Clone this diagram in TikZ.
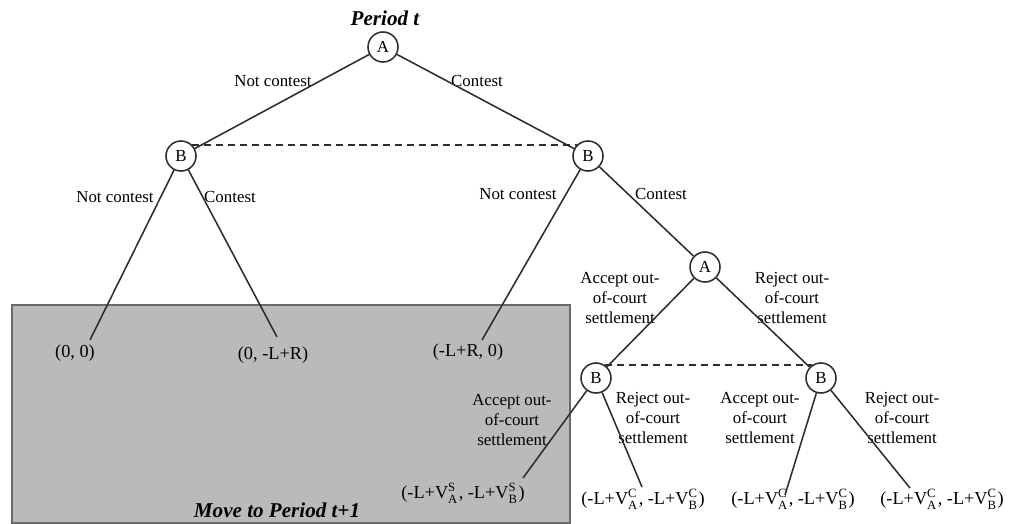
\documentclass[tikz,border=0pt]{standalone}
\usepackage{fontspec}
\setmainfont{Liberation Serif}
\usepackage{tikz}
\definecolor{boxgray}{RGB}{186, 186, 186}
\definecolor{boxedge}{RGB}{105, 105, 105}
\definecolor{inkgray}{RGB}{45, 45, 45}
\newcommand{\payv}[2]{V\rlap{\raisebox{0.85ex}{\fontsize{9}{9}\selectfont #2}}\raisebox{-0.55ex}{\fontsize{9}{9}\selectfont #1}\kern1pt}
\tikzset{
  player/.style  = {circle, draw=inkgray, line width=1.1pt, fill=white, minimum size=0.75cm, inner sep=0pt, font=\fontsize{12}{14}\selectfont},
  move/.style    = {align=center, font=\fontsize{12}{14.2}\selectfont},
  payoff/.style  = {font=\fontsize{13}{15}\selectfont},
  title/.style   = {font=\fontsize{15}{18}\selectfont\bfseries\itshape},
  branch/.style  = {draw=inkgray, line width=1.1pt},
  infoset/.style = {draw=inkgray, line width=1.1pt, dash pattern=on 5pt off 3.5pt}
}

\begin{document}
\begin{tikzpicture}[x=0.025cm, y=-0.025cm]
            \useasboundingbox                                         (0, 0) rectangle (1012, 524);
            \filldraw[boxedge, fill=boxgray, line width=1pt]          (12, 305) rectangle (570, 523);
            \node[title]  (period) at (385,  18) {Period t};
            \node[title]  (nextp)  at (277, 510) {Move to Period t+1};

            \node[player] (A0) at (383,  47) {A};
            \node[player] (B1) at (181, 156) {B};
            \node[player] (B2) at (588, 156) {B};
            \node[player] (A1) at (705, 267) {A};
            \node[player] (B3) at (596, 378) {B};
            \node[player] (B4) at (821, 378) {B};

            \node[payoff] (pay1) at ( 75, 353) {(0, 0)};
            \node[payoff] (pay2) at (273, 355) {(0, -L+R)};
            \node[payoff] (pay3) at (468, 352) {(-L+R, 0)};
            \node[payoff] (pay4) at (463, 493) {(-L+\payv{A}{S}, -L+\payv{B}{S})};
            \node[payoff] (pay5) at (643, 499) {(-L+\payv{A}{C}, -L+\payv{B}{C})};
            \node[payoff] (pay6) at (793, 499) {(-L+\payv{A}{C}, -L+\payv{B}{C})};
            \node[payoff] (pay7) at (942, 499) {(-L+\payv{A}{C}, -L+\payv{B}{C})};
            \coordinate   (end1) at ( 90, 340);
            \coordinate   (end2) at (277, 337);
            \coordinate   (end3) at (482, 340);
            \coordinate   (end4) at (523, 478);
            \coordinate   (end5) at (642, 487);
            \coordinate   (end6) at (785, 495);
            \coordinate   (end7) at (910, 488);

            \node[move] (m1)  at (273,  81) {Not contest};
            \node[move] (m2)  at (477,  81) {Contest};
            \node[move] (m3)  at (115, 197) {Not contest};
            \node[move] (m4)  at (230, 197) {Contest};
            \node[move] (m5)  at (518, 194) {Not contest};
            \node[move] (m6)  at (661, 194) {Contest};
            \node[move] (m7)  at (620, 298) {Accept out-\\of-court\\settlement};
            \node[move] (m8)  at (792, 298) {Reject out-\\of-court\\settlement};
            \node[move] (m9)  at (512, 420) {Accept out-\\of-court\\settlement};
            \node[move] (m10) at (653, 418) {Reject out-\\of-court\\settlement};
            \node[move] (m11) at (760, 418) {Accept out-\\of-court\\settlement};
            \node[move] (m12) at (902, 418) {Reject out-\\of-court\\settlement};

            \draw[branch] (A0) -- (B1);
            \draw[branch] (A0) -- (B2);
            \draw[branch] (B1) -- (end1);
            \draw[branch] (B1) -- (end2);
            \draw[branch] (B2) -- (end3);
            \draw[branch] (B2) -- (A1);
            \draw[branch] (A1) -- (B3);
            \draw[branch] (A1) -- (B4);
            \draw[branch] (B3) -- (end4);
            \draw[branch] (B3) -- (end5);
            \draw[branch] (B4) -- (end6);
            \draw[branch] (B4) -- (end7);
            \draw[infoset] (B1.45) -- (B2.135);
            \draw[infoset] (B3.55) -- (B4.125);
            \end{tikzpicture}
\end{document}
